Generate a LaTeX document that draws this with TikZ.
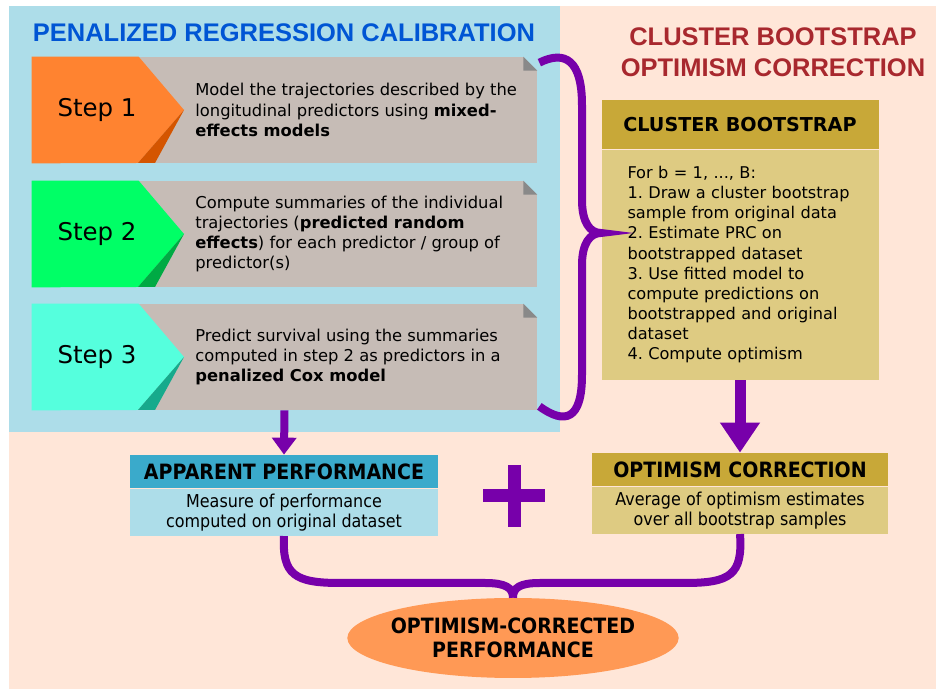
\documentclass[tikz,border=0pt]{standalone}
\usepackage{fontspec}
\setmainfont{DejaVu Sans}
\newfontfamily\headfont{Liberation Sans}
\newfontfamily\narrowfont{DejaVu Sans}[FakeStretch=0.9]
\usepackage{tikz}
\usetikzlibrary{arrows.meta, positioning, shapes.geometric, calc}
\definecolor{peach}{HTML}{FFE6D8}
\definecolor{skyblue}{HTML}{ADDDE9}
\definecolor{boxgray}{HTML}{C6BCB6}
\definecolor{foldgray}{HTML}{898989}
\definecolor{steporange}{HTML}{FF8330}
\definecolor{steporangedk}{HTML}{D45500}
\definecolor{stepgreen}{HTML}{00FF66}
\definecolor{stepgreendk}{HTML}{00AA44}
\definecolor{stepcyan}{HTML}{55FFDD}
\definecolor{stepcyandk}{HTML}{16AA8C}
\definecolor{titleblue}{HTML}{0055D4}
\definecolor{titlered}{HTML}{A8282E}
\definecolor{gold}{HTML}{C8A838}
\definecolor{lightgold}{HTML}{DECB82}
\definecolor{apphead}{HTML}{3AAACB}
\definecolor{bracepurple}{HTML}{7700AA}
\definecolor{perfsalmon}{HTML}{FF9955}
\frenchspacing

\begin{document}
\begin{tikzpicture}[
    title/.style={font=\headfont\bfseries\fontsize{14.5}{17.6}\selectfont, align=center},
    stepbox/.style={rectangle, fill=boxgray, minimum width=10.1cm,
                    minimum height=2.12cm, inner sep=0pt},
    steplabel/.style={font=\fontsize{13.9}{16}\selectfont},
    desc/.style={align=left, font=\fontsize{9.3}{11.5}\selectfont, inner sep=0pt},
    cbhead/.style={rectangle, fill=gold, minimum width=5.54cm, minimum height=0.98cm,
                   inner sep=0pt, font=\bfseries\fontsize{10.9}{13}\selectfont},
    cbbody/.style={rectangle, fill=lightgold, minimum height=4.6cm, text width=4.5cm,
                   inner xsep=0.52cm, align=left, font=\fontsize{9.2}{11.45}\selectfont},
    perfhead/.style={rectangle, minimum height=0.66cm, inner sep=0pt,
                     font=\narrowfont\bfseries\fontsize{12}{14}\selectfont},
    perfbody/.style={rectangle, minimum height=0.94cm, inner sep=0pt, align=center,
                     font=\narrowfont\fontsize{10.1}{11.4}\selectfont},
    brace/.style={line width=0.16cm, draw=bracepurple},
    bigarrow/.style={-{Triangle[width=0.76cm, length=0.6cm]}, line width=0.22cm, draw=bracepurple},
    smallarrow/.style={-{Triangle[width=0.48cm, length=0.34cm]}, line width=0.16cm, draw=bracepurple},
    plusbar/.style={line width=0.26cm, draw=bracepurple}
  ]
    \useasboundingbox (0,0) rectangle (18.72,-13.78);
    % Panels
    \fill[peach] (0.18,-0.12) rectangle (18.72,-13.78);
    \fill[skyblue] (0.18,-0.12) rectangle (11.2,-8.64);
    \node[title, text=titleblue] (calib) at (5.68,-0.66) {PENALIZED REGRESSION CALIBRATION};
    \node[title, text=titlered] (optim) at (15.46,-1.05) {CLUSTER BOOTSTRAP\\OPTIMISM CORRECTION};

    % Steps
    \foreach \i/\y/\fillc/\darkc in {1/-2.2/steporange/steporangedk,
        2/-4.68/stepgreen/stepgreendk, 3/-7.14/stepcyan/stepcyandk} {
      \node[stepbox] (box\i) at (5.69,\y) {};
      \fill[skyblue] ($(box\i.north east)+(-0.28,0)$) -- (box\i.north east)
        -- ($(box\i.north east)+(0,-0.28)$) -- cycle;
      \fill[foldgray] ($(box\i.north east)+(-0.28,0)$) -- ($(box\i.north east)+(-0.28,-0.28)$)
        -- ($(box\i.north east)+(0,-0.28)$) -- cycle;
      \fill[\fillc] (box\i.north west) -- ++(2.14,0) -- (3.68,\y) -- (2.76,\y-1.06)
        -- (box\i.south west) -- cycle;
      \fill[\darkc] (3.68,\y) -- (3.1,\y-1.06) -- (2.76,\y-1.06) -- cycle;
      \node[steplabel] (lbl\i) at (1.94,\y) {Step \i};
    }
    \node[desc, anchor=west] (txt1) at (3.9,-2.2)
      {Model the trajectories described by the\\longitudinal predictors using \textbf{mixed-}\\\textbf{effects models}};
    \node[desc, anchor=west] (txt2) at (3.9,-4.68)
      {Compute summaries of the individual\\trajectories (\textbf{predicted random}\\\textbf{effects}) for each predictor / group of\\predictor(s)};
    \node[desc, anchor=west] (txt3) at (3.9,-7.14)
      {Predict survival using the summaries\\computed in step 2 as predictors in a\\\textbf{penalized Cox model}};

    % Cluster bootstrap
    \node[cbhead] (cbhead) at (14.8,-2.49) {CLUSTER BOOTSTRAP};
    \node[cbbody, below=0pt of cbhead] (cbbody)
      {For b = 1, ..., B:\\1. Draw a cluster bootstrap\\sample from original data\\2. Estimate PRC on\\bootstrapped dataset\\3. Use fitted model to\\compute predictions on\\bootstrapped and original\\dataset\\4. Compute optimism};

    % Performance boxes
    \node[perfhead, fill=apphead, minimum width=6.16cm] (apphead) at (5.68,-9.43) {APPARENT PERFORMANCE};
    \node[perfbody, fill=skyblue, minimum width=6.16cm, below=0pt of apphead] (appbody)
      {Measure of performance\\computed on original dataset};
    \node[perfhead, fill=gold, minimum width=5.92cm] (ochead) at (14.8,-9.39) {OPTIMISM CORRECTION};
    \node[perfbody, fill=lightgold, minimum width=5.92cm, below=0pt of ochead] (ocbody)
      {Average of optimism estimates\\over all bootstrap samples};
    \node[ellipse, fill=perfsalmon, minimum width=6.6cm, minimum height=1.6cm, inner xsep=-0.1cm,
          inner ysep=0pt, align=center, font=\narrowfont\bfseries\fontsize{12}{13.7}\selectfont] (perf)
      at (10.26,-12.76) {OPTIMISM-CORRECTED\\PERFORMANCE};

    % Plus
    \coordinate (plus) at (10.28,-9.92);
    \draw[plusbar] ($(plus)+(0,0.62)$) -- ($(plus)+(0,-0.62)$);
    \draw[plusbar] ($(plus)+(-0.62,0)$) -- ($(plus)+(0.62,0)$);

    % Arrows
    \draw[smallarrow] (box3.south) -- (apphead.north);
    \draw[bigarrow] (cbbody.south) -- (ochead.north);

    % Braces
    \coordinate (tip) at (12.02,-4.66);
    \draw[brace] ($(box1.north east)+(0.04,-0.12)$) .. controls (11.3,-1.0) and (11.64,-1.2) .. (11.64,-2.1)
      -- (11.64,-4.0) .. controls (11.64,-4.45) and (11.8,-4.66) .. (tip)
      .. controls (11.8,-4.66) and (11.64,-4.87) .. (11.64,-5.3)
      -- (11.64,-7.5) .. controls (11.64,-8.4) and (11.3,-8.5) .. ($(box3.south east)+(0.04,0.08)$);
    \draw[brace] (appbody.south) .. controls (5.64,-11.5) and (5.9,-11.66) .. (6.8,-11.66)
      -- (9.7,-11.66) .. controls (10.1,-11.66) and (10.26,-11.75) .. (perf.north);
    \draw[brace] (ocbody.south) .. controls (14.86,-11.5) and (14.6,-11.66) .. (13.7,-11.66)
      -- (10.8,-11.66) .. controls (10.4,-11.66) and (10.26,-11.75) .. (perf.north);
  \end{tikzpicture}
\end{document}
